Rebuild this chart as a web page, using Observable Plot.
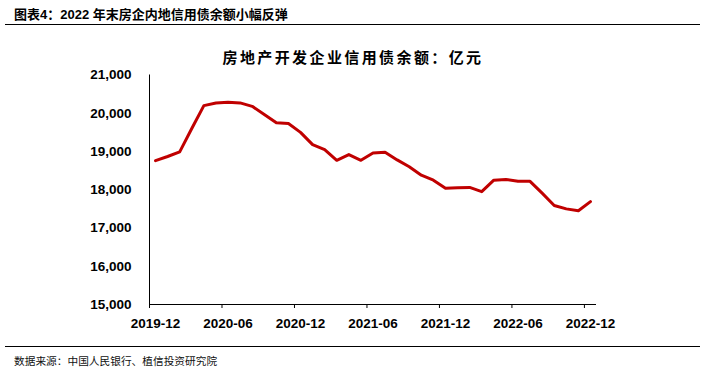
<!DOCTYPE html>
<html>
<head>
<meta charset="utf-8">
<script src="https://cdn.jsdelivr.net/npm/d3@7"></script>
<script src="https://cdn.jsdelivr.net/npm/@observablehq/plot@0.6"></script>
<style>
  html, body { margin: 0; padding: 0; background: #fff; }
  #wrap { position: relative; width: 706px; height: 371px; overflow: hidden; background: #fff; }
  #wrap svg { position: absolute; left: 0; top: 0; }
  .title { position: absolute; left: 14px; top: 4px; font-family: "Liberation Sans", "Noto Sans CJK SC", sans-serif; font-weight: bold; font-size: 13px; color: #000; white-space: nowrap; }
  .hr { position: absolute; left: 5px; width: 695px; height: 0; border-top: 1.3px solid #000; }
  .sub { position: absolute; left: 0; width: 706px; top: 46px; text-align: center; font-family: "Noto Sans CJK SC", sans-serif; font-weight: bold; font-size: 15px; letter-spacing: 2.4px; color: #000; white-space: nowrap; }
  .src { position: absolute; left: 14px; top: 353px; font-family: "Noto Sans CJK SC", sans-serif; font-size: 10.7px; color: #111; white-space: nowrap; }
</style>
</head>
<body>
<div id="wrap">
  <div class="title">图表4：2022 年末房企内地信用债余额小幅反弹</div>
  <div class="hr" style="top:24px"></div>
  <div class="sub">房地产开发企业信用债余额：亿元</div>
  <div class="hr" style="top:346px"></div>
  <div class="src">数据来源：中国人民银行、植信投资研究院</div>
</div>
<script>
const months = [
  "2019-12","2020-01","2020-02","2020-03","2020-04","2020-05","2020-06","2020-07","2020-08","2020-09","2020-10","2020-11",
  "2020-12","2021-01","2021-02","2021-03","2021-04","2021-05","2021-06","2021-07","2021-08","2021-09","2021-10","2021-11",
  "2021-12","2022-01","2022-02","2022-03","2022-04","2022-05","2022-06","2022-07","2022-08","2022-09","2022-10","2022-11",
  "2022-12"
];
const values = [
  18760, 18870, 18990, 19600, 20200, 20270, 20290, 20270, 20180, 19970, 19750, 19730,
  19500, 19180, 19050, 18770, 18920, 18770, 18960, 18980, 18780, 18600, 18380, 18250,
  18040, 18050, 18060, 17950, 18250, 18270, 18220, 18220, 17910, 17590, 17500, 17450,
  17690
];
const tickLabels = ["2019-12","2020-06","2020-12","2021-06","2021-12","2022-06","2022-12"];
const yTicks = [15000, 16000, 17000, 18000, 19000, 20000, 21000];

const data = months.map((m, i) => ({i, m, v: values[i]}));
const labelIdx = tickLabels.map(l => months.indexOf(l));
const tickIdx = labelIdx.map(i => i - 0.5);

const chart = Plot.plot({
  width: 706,
  height: 371,
  marginTop: 74.5,
  marginBottom: 67,
  marginLeft: 149,
  marginRight: 110,
  x: {domain: [-0.5, months.length - 0.5], label: null},
  y: {domain: [yTicks[0], yTicks[yTicks.length - 1]], label: null},
  style: {fontFamily: "'Liberation Sans', Arial, sans-serif", fontSize: "13.5px", fontWeight: "bold", color: "#000", background: "transparent"},
  marks: [
    Plot.axisY({ticks: yTicks, tickSize: 0, tickPadding: 18, tickFormat: d3.format(","), label: null}),
    Plot.axisX({ticks: tickIdx, tickSize: 4, tickFormat: () => "", label: null, stroke: "#000"}),
    Plot.axisX({ticks: labelIdx, tickSize: 0, tickPadding: 14, tickFormat: i => months[i], label: null}),
    Plot.ruleX([-0.5], {y1: yTicks[0], y2: yTicks[yTicks.length - 1], stroke: "#000", strokeWidth: 1}),
    Plot.ruleY([yTicks[0]], {stroke: "#000", strokeWidth: 1}),
    Plot.line(data, {x: "i", y: "v", stroke: "#C00000", strokeWidth: 3, strokeLinejoin: "round"})
  ]
});
document.getElementById("wrap").prepend(chart);
</script>
</body>
</html>
